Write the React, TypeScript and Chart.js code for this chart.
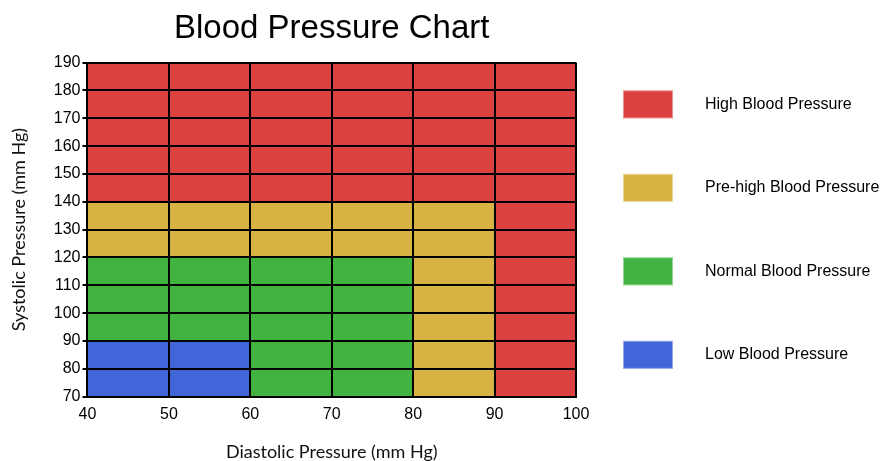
import React, { useEffect, useRef } from "react";
import { Chart, registerables } from "chart.js";

Chart.register(...registerables);

// Diastolic column centers (each column is 10 mm Hg wide)
const diastolicColumns = [45, 55, 65, 75, 85, 95];
const diastolicTicks = [40, 50, 60, 70, 80, 90, 100];
const systolicTicks = [70, 80, 90, 100, 110, 120, 130, 140, 150, 160, 170, 180, 190];

const categories = [
  "High Blood Pressure",
  "Pre-high Blood Pressure",
  "Normal Blood Pressure",
  "Low Blood Pressure",
];
const colors = ["#DB4141", "#D8B343", "#40B341", "#4066D9"];

// Systolic range [from, to] per diastolic column, null = not present
const highRanges: ([number, number] | null)[] = [[140, 190], [140, 190], [140, 190], [140, 190], [140, 190], [70, 190]];
const preHighRanges: ([number, number] | null)[] = [[120, 140], [120, 140], [120, 140], [120, 140], [70, 140], null];
const normalRanges: ([number, number] | null)[] = [[90, 120], [90, 120], [70, 120], [70, 120], null, null];
const lowRanges: ([number, number] | null)[] = [[70, 90], [70, 90], null, null, null, null];

const allRanges = [highRanges, preHighRanges, normalRanges, lowRanges];

const legendPlugin = {
  id: "sideLegend",
  afterDraw(chart: any) {
    const { ctx, chartArea } = chart;
    const h = chartArea.bottom - chartArea.top;
    const n = chart.data.datasets.length;
    ctx.save();
    chart.data.datasets.forEach((ds: any, i: number) => {
      const cy = chartArea.top + ((i + 0.5) * h) / n;
      const bx = chartArea.right + 47;
      const bw = 50;
      const bh = 28;
      ctx.fillStyle = ds.backgroundColor;
      ctx.fillRect(bx, cy - bh / 2, bw, bh);
      ctx.strokeStyle = "rgba(255,255,255,0.45)";
      ctx.lineWidth = 1;
      ctx.strokeRect(bx + 0.5, cy - bh / 2 + 0.5, bw - 1, bh - 1);
      ctx.fillStyle = "#000";
      ctx.font = "16px 'Liberation Sans', Arial, sans-serif";
      ctx.textBaseline = "middle";
      ctx.textAlign = "left";
      ctx.fillText(ds.label, bx + bw + 32, cy);
    });
    ctx.restore();
  },
};

export default function App() {
  const ref = useRef<HTMLCanvasElement | null>(null);
  useEffect(() => {
    if (!ref.current) return;
    const datasets = categories.map((label, k) => ({
      label,
      backgroundColor: colors[k],
      borderWidth: 0,
      barPercentage: 1,
      categoryPercentage: 1,
      grouped: false,
      data: diastolicColumns
        .map((x, i) => (allRanges[k][i] ? { x, y: allRanges[k][i] } : null))
        .filter((d) => d !== null),
    }));
    const tickFont = { family: "'Liberation Sans', Arial, sans-serif", size: 16 };
    const titleFont = { family: "Lato, sans-serif", size: 18 };
    const chart = new Chart(ref.current, {
      type: "bar",
      data: { datasets: datasets as any },
      plugins: [legendPlugin],
      options: {
        animation: false,
        responsive: true,
        maintainAspectRatio: false,
        layout: { padding: { left: 0, right: 304, top: 0, bottom: 0 } },
        plugins: {
          legend: { display: false },
          tooltip: { enabled: false },
          title: {
            display: true,
            text: "Blood Pressure Chart",
            fullSize: false,
            color: "#000",
            font: { family: "'Liberation Sans', Arial, sans-serif", size: 33, weight: "normal" },
            padding: { top: 9, bottom: 14 },
          },
        },
        scales: {
          x: {
            type: "linear",
            min: 40,
            max: 100,
            offset: false,
            afterBuildTicks: (axis: any) => {
              axis.ticks = diastolicTicks.map((v) => ({ value: v }));
            },
            ticks: { color: "#000", font: tickFont, padding: 8, maxRotation: 0 },
            grid: { color: "#000", lineWidth: 2, offset: false, drawTicks: false, z: 1 },
            border: { color: "#000", width: 2, z: 2 },
            title: {
              display: true,
              text: "Diastolic Pressure (mm Hg)",
              color: "#111",
              font: titleFont,
              padding: { top: 9.4, bottom: -1.8 },
            },
          },
          y: {
            type: "linear",
            min: 70,
            max: 190,
            beginAtZero: false,
            afterBuildTicks: (axis: any) => {
              axis.ticks = systolicTicks.map((v) => ({ value: v }));
            },
            ticks: { color: "#000", font: tickFont, padding: 2 },
            grid: { color: "#000", lineWidth: 2, tickLength: 5, z: 1 },
            border: { color: "#000", width: 2, z: 2 },
            title: {
              display: true,
              text: "Systolic Pressure (mm Hg)",
              color: "#111",
              font: titleFont,
              padding: { top: 8.2, bottom: 22 },
            },
          },
        },
      } as any,
    });
    return () => chart.destroy();
  }, []);
  return (
    <div style={{ position: "fixed", left: 0, top: 0, width: 880, height: 461, background: "#fff" }}>
      <canvas ref={ref} />
    </div>
  );
}
